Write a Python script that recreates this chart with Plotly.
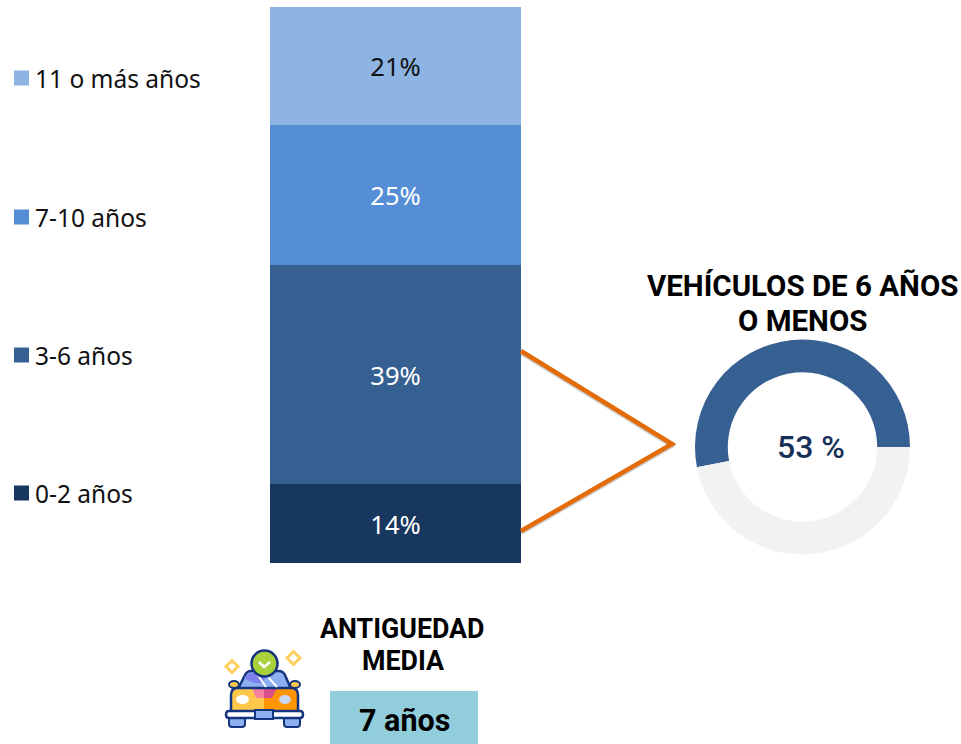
import plotly.graph_objects as go

categories = ["0-2 años", "3-6 años", "7-10 años", "11 o más años"]
shares = [14, 39, 25, 21]
bar_labels = ["14%", "39%", "25%", "21%"]
bar_colors = ["#17375E", "#376092", "#558ED5", "#8EB4E3"]
label_colors = ["white", "white", "white", "#111111"]
legend_y = [493, 355, 217, 78]
donut_labels = ["6 años o menos", "Más de 6 años"]
donut_values = [53, 47]
donut_colors = ["#376092", "#F2F2F2"]

W, H = 961, 744
fig = go.Figure()
for c, v, t, col, tc in zip(categories, shares, bar_labels, bar_colors, label_colors):
    fig.add_trace(go.Bar(x=["Antigüedad"], y=[v], name=c, text=[t], marker=dict(color=col, line=dict(width=0)),
                         textposition="inside", insidetextanchor="middle", textangle=0,
                         insidetextfont=dict(family="Noto Sans", size=25.5, color=tc), showlegend=False))
cx, cy, r = 802.5, 447, 107.5
fig.add_trace(go.Pie(labels=donut_labels, values=donut_values, hole=0.695, rotation=259.2, direction="clockwise",
                     sort=False, marker=dict(colors=donut_colors, line=dict(width=0)), textinfo="none", showlegend=False,
                     domain=dict(x=[(cx-r)/W, (cx+r)/W], y=[1-(cy+r)/H, 1-(cy-r)/H])))
# overlay axes in pixels for decorations
fig.add_trace(go.Scatter(x=[0], y=[0], xaxis="x2", yaxis="y2", mode="markers", marker=dict(opacity=0), showlegend=False, hoverinfo="skip"))

shapes = []
annos = []
def S(kind, **k):
    d = dict(type=kind, xref="x2", yref="y2", line=dict(width=0), layer="above")
    d.update(k)
    shapes.append(d)
def A(x, y, text, size, color="#000000", family="Roboto", weight="normal", anchor="center"):
    annos.append(dict(x=x, y=y, xref="x2", yref="y2", text=text, showarrow=False, xanchor=anchor, yanchor="middle",
                      font=dict(family=family, size=size, color=color, weight=weight)))

# legend
for c, y, col in zip(categories, legend_y, bar_colors):
    S("rect", x0=14, x1=29, y0=y-7.5, y1=y+7.5, fillcolor=col)
    A(33, y, c, 24.5, "#111111", "Noto Sans", anchor="left")

# connector lines with soft shadow
for dx, col, w in [(2, "rgba(90,90,90,0.30)", 4), (0, "#E36C09", 4.5)]:
    S("path", path=f"M 521 {351+dx} L {672} {444+dx} L 521 {531+dx}", line=dict(color=col, width=w))

# texts
A(802.5, 286, "VEHÍCULOS DE 6 AÑOS", 29.5, weight="bold")
A(802.5, 321, "O MENOS", 29.5, weight="bold")
A(811, 447, "53 %", 32, "#17305A", weight=500)
A(402.5, 629, "ANTIGUEDAD", 26.8, weight="bold")
A(402.5, 661, "MEDIA", 26.8, weight="bold")
S("rect", x0=330, x1=478, y0=691, y1=744, fillcolor="#92CDDC")
A(404.5, 720, "7 años", 30.5, weight="bold")

# car icon
navy = "#14347F"
def diamond(x, y, r, col):
    S("path", path=f"M {x-r} {y} L {x} {y-r} L {x+r} {y} L {x} {y+r} Z", fillcolor="white", line=dict(color=col, width=3))
diamond(232, 666.5, 6, "#FFCE5C")
diamond(293.5, 658, 6.5, "#FFCE5C")
for x in (229, 284):
    S("path", path=f"M {x} 716 L {x+16} 716 L {x+16} 724 Q {x+16} 727 {x+13} 727 L {x+3} 727 Q {x} 727 {x} 724 Z",
      fillcolor="#8DB0F0", line=dict(color=navy, width=2))
for x in (234, 295):
    S("circle", x0=x-5, x1=x+5, y0=681, y1=688, fillcolor="#FFC84A", line=dict(color=navy, width=2))
S("path", path="M 238 689 L 245 675 Q 247 671 251 671 L 279 671 Q 283 671 285 675 L 291 689 Z",
  fillcolor="#8DB0F0", line=dict(color=navy, width=2.5))
S("path", path="M 244 678 Q 248 673 252 673 L 268 673 L 262 683 Q 252 684 244 678 Z", fillcolor="#7F7FF0")
S("path", path="M 231 710 L 231 695 Q 231 688 238 688 L 264 688 L 264 710 Z", fillcolor="#FFC84A", line=dict(color=navy, width=0))
S("path", path="M 264 688 L 291 688 Q 298 688 298 695 L 298 710 L 264 710 Z", fillcolor="#FF9500", line=dict(color=navy, width=0))
S("path", path="M 252 688 L 264 688 L 264 698 L 256 698 Z", fillcolor="#F77FA0")
S("path", path="M 264 688 L 277 688 L 272 698 L 264 698 Z", fillcolor="#D94F8A")
S("path", path="M 231 710 L 231 695 Q 231 688 238 688 L 291 688 Q 298 688 298 695 L 298 710", line=dict(color=navy, width=2.5))
S("path", path="M 257 674 L 266 687 M 268 677 L 277 687", line=dict(color="white", width=2))
S("circle", x0=236, x1=249, y0=695, y1=704, fillcolor="white")
S("circle", x0=279, x1=291, y0=695, y1=704, fillcolor="#C9D6F5")
S("path", path="M 229 711 L 300 711 Q 303 711 303 714.5 Q 303 718 300 718 L 229 718 Q 226 718 226 714.5 Q 226 711 229 711 Z",
  fillcolor="white", line=dict(color=navy, width=2.5))
S("rect", x0=255, x1=273, y0=710, y1=719, fillcolor="#8DB0F0", line=dict(color=navy, width=2))
S("circle", x0=251.5, x1=277.5, y0=650.5, y1=676.5, fillcolor="#A8D13A", line=dict(color=navy, width=2.5))
S("path", path="M 259 662 L 264 667 L 270 662", line=dict(color="white", width=2.5))

fig.update_layout(
    width=W, height=H, autosize=False, margin=dict(l=0, r=0, t=0, b=0), barmode="stack", bargap=0,
    paper_bgcolor="white", plot_bgcolor="rgba(0,0,0,0)",
    xaxis=dict(domain=[270/W, 521/W], visible=False, fixedrange=True),
    yaxis=dict(domain=[1-563/H, 1-7/H], range=[0, sum(shares)], visible=False, fixedrange=True),
    xaxis2=dict(domain=[0, 1], range=[0, W], visible=False, anchor="y2"),
    yaxis2=dict(domain=[0, 1], range=[H, 0], visible=False, anchor="x2"),
    shapes=shapes, annotations=annos,
)
fig.write_html("out.html", config=dict(displayModeBar=False),
               post_script="document.body.style.margin='0';document.documentElement.style.overflow='hidden';")
